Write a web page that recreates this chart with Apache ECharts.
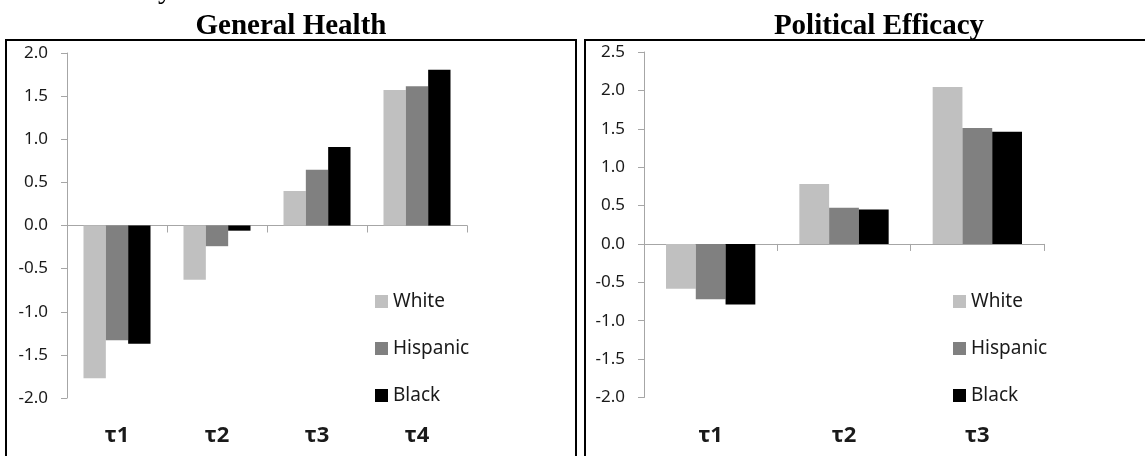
<!DOCTYPE html>
<html>
<head>
<meta charset="utf-8">
<script src="https://cdn.jsdelivr.net/npm/echarts@6/dist/echarts.min.js"></script>
<style>
  html, body { margin: 0; padding: 0; background: #fff; }
  #chart { width: 1145px; height: 456px; }
</style>
</head>
<body>
<div id="chart"></div>
<script>
// Threshold estimates by group, two panels
const seriesNames = ['White', 'Hispanic', 'Black'];
const seriesColors = ['#c0c0c0', '#808080', '#000000'];

const healthTitle = 'General Health';
const healthCategories = ['τ1', 'τ2', 'τ3', 'τ4'];
const healthWhite = [-1.77, -0.63, 0.40, 1.57];
const healthHispanic = [-1.33, -0.24, 0.645, 1.615];
const healthBlack = [-1.37, -0.06, 0.91, 1.805];
const healthTicks = { min: -2, max: 2, interval: 0.5 };

const efficacyTitle = 'Political Efficacy';
const efficacyCategories = ['τ1', 'τ2', 'τ3'];
const efficacyWhite = [-0.585, 0.78, 2.045];
const efficacyHispanic = [-0.72, 0.47, 1.51];
const efficacyBlack = [-0.79, 0.45, 1.46];
const efficacyTicks = { min: -2, max: 2.5, interval: 0.5 };

const axisGray = '#a6a6a6';
const labelFont = 'Noto Sans';
const textColor = '#1a1a1a';

function yAxisFor(gridIndex, ticks) {
  return {
    type: 'value', gridIndex,
    min: ticks.min, max: ticks.max, interval: ticks.interval,
    splitLine: { show: false },
    axisLine: { show: true, lineStyle: { color: axisGray, width: 1 } },
    axisTick: { show: true, length: 6, lineStyle: { color: axisGray } },
    axisLabel: {
      margin: 19, color: textColor, fontFamily: labelFont, fontSize: 17,
      formatter: v => v.toFixed(1)
    }
  };
}

function zeroAxisFor(gridIndex, cats) {
  return {
    type: 'category', gridIndex, data: cats,
    axisLine: { onZero: true, lineStyle: { color: axisGray, width: 1 } },
    axisTick: { show: true, length: 7, lineStyle: { color: axisGray } },
    axisLabel: { show: false }
  };
}

function labelAxisFor(gridIndex, cats) {
  return {
    type: 'category', gridIndex, data: cats, position: 'bottom',
    axisLine: { show: false, onZero: false },
    axisTick: { show: false },
    axisLabel: {
      margin: 27, color: textColor, fontFamily: labelFont,
      fontSize: 22, fontWeight: 'bold'
    }
  };
}

function barsFor(axisIndex, groups) {
  return groups.map((vals, i) => ({
    type: 'bar', name: seriesNames[i],
    xAxisIndex: axisIndex, yAxisIndex: axisIndex,
    data: vals,
    barGap: '0%', barCategoryGap: '33%',
    itemStyle: { color: seriesColors[i] },
    emphasis: { disabled: true },
    animation: false
  }));
}

function legendAt(left, top) {
  return {
    orient: 'vertical', left, top,
    data: seriesNames,
    icon: 'rect', itemWidth: 13, itemHeight: 13, itemGap: 28,
    selectedMode: false,
    textStyle: { color: textColor, fontFamily: labelFont, fontSize: 19 }
  };
}

function titleText(text, x) {
  return {
    type: 'text', x, y: 27,
    style: {
      text, x: 0, y: 0, align: 'center', verticalAlign: 'middle',
      font: 'bold 29px "Liberation Serif", "Times New Roman", serif',
      fill: '#000'
    }
  };
}

const chart = echarts.init(document.getElementById('chart'), null, { renderer: 'canvas' });

chart.setOption({
  backgroundColor: '#ffffff',
  animation: false,
  grid: [
    { left: 67, top: 53, width: 400, height: 345, outerBoundsMode: 'none' },
    { left: 644, top: 52, width: 400, height: 345.5, outerBoundsMode: 'none' }
  ],
  xAxis: [
    zeroAxisFor(0, healthCategories),
    zeroAxisFor(1, efficacyCategories),
    labelAxisFor(0, healthCategories),
    labelAxisFor(1, efficacyCategories)
  ],
  yAxis: [yAxisFor(0, healthTicks), yAxisFor(1, efficacyTicks)],
  legend: [legendAt(370, 287), legendAt(948, 287)],
  series: [
    ...barsFor(0, [healthWhite, healthHispanic, healthBlack]),
    ...barsFor(1, [efficacyWhite, efficacyHispanic, efficacyBlack])
  ],
  graphic: [
    // panel frames (bottom and outer right run past the page edge)
    { type: 'rect', shape: { x: 6, y: 40, width: 570, height: 440 },
      style: { fill: null, stroke: '#000', lineWidth: 2 }, silent: true },
    { type: 'rect', shape: { x: 585, y: 40, width: 600, height: 440 },
      style: { fill: null, stroke: '#000', lineWidth: 2 }, silent: true },
    titleText(healthTitle, 291),
    titleText(efficacyTitle, 879),
    // tail of the running text line above the panels
    { type: 'text', x: 158, y: 5,
      style: { text: 'y', align: 'left', verticalAlign: 'bottom',
        font: '29px "Liberation Serif", "Times New Roman", serif', fill: '#000' } }
  ]
});
</script>
</body>
</html>
